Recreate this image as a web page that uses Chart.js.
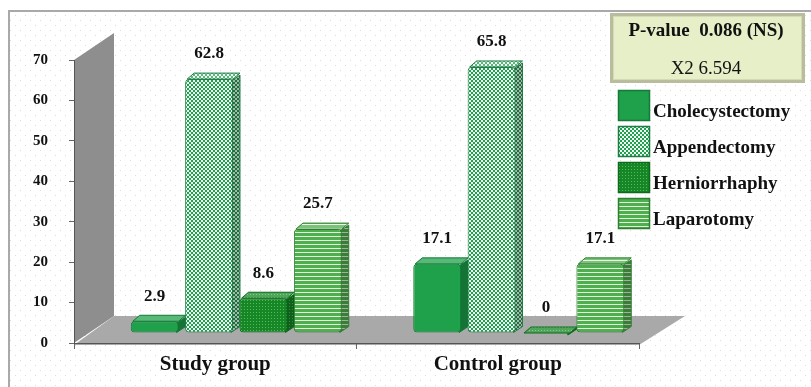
<!DOCTYPE html>
<html>
<head>
<meta charset="utf-8">
<script src="https://cdn.jsdelivr.net/npm/chart.js@4.4.1/dist/chart.umd.min.js"></script>
<style>
  html, body { margin: 0; padding: 0; background: #fff; }
  #grafico { display: block; }
</style>
</head>
<body>
<canvas id="grafico" width="811" height="387"></canvas>
<script>
// Datos del gráfico
const categories = ['Study group', 'Control group'];
const seriesNames = ['Cholecystectomy', 'Appendectomy', 'Herniorrhaphy', 'Laparotomy'];
const cholecystectomy = [2.9, 17.1];
const appendectomy = [62.8, 65.8];
const herniorrhaphy = [8.6, 0];
const laparotomy = [25.7, 17.1];
const yTicks = [0, 10, 20, 30, 40, 50, 60, 70];
const pValueText = 'P-value  0.086 (NS)';
const chiText = 'X2 6.594';

const serif = "'Liberation Serif', 'Times New Roman', serif";

// Patrones de relleno
function makePattern(w, h, paint) {
    const c = document.createElement('canvas');
    c.width = w; c.height = h;
    const g = c.getContext('2d');
    paint(g);
    return document.getElementById('grafico').getContext('2d').createPattern(c, 'repeat');
}

const fillChole = '#1fa04b';
const fillAppend = makePattern(4, 4, g => {
    g.fillStyle = '#eefaf1'; g.fillRect(0, 0, 4, 4);
    g.fillStyle = '#22a052'; g.fillRect(0, 0, 2, 2); g.fillRect(2, 2, 2, 2);
});
const fillHernia = makePattern(3, 3, g => {
    g.fillStyle = '#168626'; g.fillRect(0, 0, 3, 3);
    g.fillStyle = '#4fbf55'; g.fillRect(1, 1, 1, 1);
});
const fillLapa = makePattern(4, 4, g => {
    g.fillStyle = '#4fae4f'; g.fillRect(0, 0, 4, 4);
    g.fillStyle = '#dff5d6'; g.fillRect(0, 2, 4, 1);
});
const fills = [fillChole, fillAppend, fillHernia, fillLapa];
const edges = ['#157a37', '#1f7d45', '#0e6a1c', '#2f7f32'];
const values = [cholecystectomy, appendectomy, herniorrhaphy, laparotomy];

const dotPattern = makePattern(10, 10, g => {
    g.fillStyle = '#fff'; g.fillRect(0, 0, 10, 10);
    g.fillStyle = '#dcdcdc'; g.fillRect(0, 0, 1, 1); g.fillRect(5, 5, 1, 1);
});

// desplazamiento de profundidad
const depth = { dx: 40, dy: -27 };
const barShift = { x: 21, y: -10 };
const face = { dx: 7, dy: -6 };

function poly(ctx, pts) {
    ctx.beginPath();
    ctx.moveTo(pts[0][0], pts[0][1]);
    for (let i = 1; i < pts.length; i++) ctx.lineTo(pts[i][0], pts[i][1]);
    ctx.closePath();
}

const backgroundPlugin = {
    id: 'fondo',
    beforeDraw(chart) {
        const ctx = chart.ctx;
        const a = chart.chartArea;
        ctx.save();
        ctx.fillStyle = '#fff';
        ctx.fillRect(0, 0, chart.width, chart.height);
        ctx.fillStyle = dotPattern;
        ctx.fillRect(9, 11, chart.width, chart.height);
        ctx.strokeStyle = '#a9a9a9';
        ctx.lineWidth = 2;
        ctx.strokeRect(9, 11, chart.width + 10, chart.height + 10);
        // pared del fondo
        ctx.fillStyle = '#8e8e8e';
        poly(ctx, [[a.left, a.top], [a.left + depth.dx, a.top + depth.dy],
            [a.left + depth.dx, a.bottom + depth.dy], [a.left, a.bottom]]);
        ctx.fill();
        // piso
        ctx.fillStyle = '#a9a9a9';
        poly(ctx, [[a.left, a.bottom + 2], [a.left + depth.dx, a.bottom + depth.dy],
            [a.right + depth.dx + 6, a.bottom + depth.dy], [a.right, a.bottom + 2]]);
        ctx.fill();
        ctx.restore();
    }
};

const barsPlugin = {
    id: 'barras3d',
    beforeDatasetsDraw(chart) {
        const ctx = chart.ctx;
        ctx.save();
        ctx.translate(barShift.x, barShift.y);
        chart.data.datasets.forEach((ds, i) => {
            chart.getDatasetMeta(i).data.forEach(bar => {
                const l = bar.x - bar.width / 2, r = bar.x + bar.width / 2;
                const side = [[r - 2, bar.y + 2], [r + face.dx, bar.y + face.dy + 2],
                    [r + face.dx, bar.base + face.dy], [r - 2, bar.base]];
                const top = [[l + 2, bar.y], [l + face.dx + 2, bar.y + face.dy],
                    [r + face.dx, bar.y + face.dy], [r, bar.y]];
                [[side, 'rgba(0,0,0,0.28)'], [top, 'rgba(255,255,255,0.25)']].forEach(([pts, tint]) => {
                    poly(ctx, pts);
                    ctx.fillStyle = ds.backgroundColor;
                    ctx.fill();
                    ctx.fillStyle = tint;
                    ctx.fill();
                    ctx.strokeStyle = ds.borderColor;
                    ctx.lineWidth = 1;
                    ctx.stroke();
                });
            });
        });
    },
    afterDatasetsDraw(chart) {
        const ctx = chart.ctx;
        ctx.restore();
        // etiquetas de valores
        ctx.save();
        ctx.font = 'bold 17px ' + serif;
        ctx.fillStyle = '#111';
        ctx.textAlign = 'center';
        ctx.textBaseline = 'middle';
        chart.data.datasets.forEach((ds, i) => {
            chart.getDatasetMeta(i).data.forEach((bar, j) => {
                ctx.fillText(String(ds.data[j]), bar.x + barShift.x, bar.y + barShift.y - 25);
            });
        });
        ctx.restore();
    }
};

const legendPlugin = {
    id: 'leyenda',
    afterDraw(chart) {
        const ctx = chart.ctx;
        ctx.save();
        // caja del valor p
        ctx.fillStyle = '#b9bd9e';
        ctx.fillRect(610, 13, 195, 70);
        ctx.fillStyle = '#e7efc8';
        ctx.fillRect(613, 16, 189, 64);
        ctx.strokeStyle = '#d4dab5';
        ctx.lineWidth = 1;
        ctx.strokeRect(613.5, 16.5, 188, 63);
        ctx.fillStyle = '#111';
        ctx.textAlign = 'center';
        ctx.textBaseline = 'middle';
        ctx.font = 'bold 19px ' + serif;
        ctx.fillText(pValueText, 706, 31);
        ctx.font = '19px ' + serif;
        ctx.fillText(chiText, 706, 69);

        // elementos de la leyenda
        ctx.textAlign = 'left';
        ctx.font = 'bold 19px ' + serif;
        chart.data.datasets.forEach((ds, i) => {
            const y = 90 + i * 36;
            ctx.fillStyle = ds.backgroundColor;
            ctx.fillRect(618, y, 32, 31);
            ctx.strokeStyle = ds.borderColor;
            ctx.lineWidth = 1.5;
            ctx.strokeRect(618.5, y + 0.5, 31, 30);
            ctx.fillStyle = '#111';
            ctx.fillText(ds.label, 653, y + 22);
        });
        ctx.restore();
    }
};

const ctx = document.getElementById('grafico').getContext('2d');
new Chart(ctx, {
    type: 'bar',
    data: {
        labels: categories,
        datasets: seriesNames.map((name, i) => ({
            label: name,
            data: values[i],
            backgroundColor: fills[i],
            borderColor: edges[i],
            borderWidth: 1,
            borderRadius: 4,
            borderSkipped: false,
            clip: false
        }))
    },
    options: {
        responsive: false,
        animation: false,
        devicePixelRatio: 1,
        layout: { padding: { left: 0, right: 172, top: 60, bottom: 0 } },
        datasets: { bar: { categoryPercentage: 0.77, barPercentage: 0.88 } },
        plugins: { legend: { display: false }, tooltip: { enabled: false } },
        scales: {
            x: {
                grid: { offset: true, drawOnChartArea: false, tickLength: 6, color: '#666' },
                border: { color: '#555' },
                ticks: { color: '#111', padding: 3, font: { family: serif, size: 21, weight: 'bold' } },
                afterFit: s => { s.height = 44; }
            },
            y: {
                min: 0,
                max: 70,
                afterBuildTicks: s => { s.ticks = yTicks.map(v => ({ value: v })); },
                grid: { drawOnChartArea: false, tickLength: 5, color: '#666' },
                border: { color: '#555' },
                ticks: { color: '#111', padding: 21, font: { family: serif, size: 15, weight: 'bold' } },
                afterFit: s => { s.width = 74; }
            }
        }
    },
    plugins: [backgroundPlugin, barsPlugin, legendPlugin]
});
</script>
</body>
</html>
